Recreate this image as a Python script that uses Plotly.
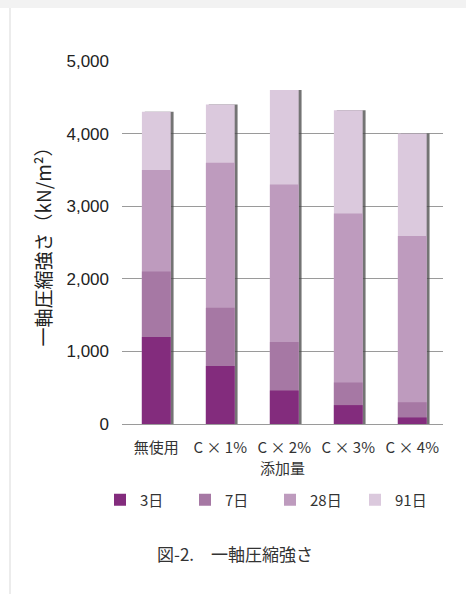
import plotly.graph_objects as go

categories = ["無使用", "C × 1%", "C × 2%", "C × 3%", "C × 4%"]
series_names = ["3日", "7日", "28日", "91日"]
day3 = [1200, 800, 460, 260, 90]
day7 = [2100, 1600, 1130, 570, 300]
day28 = [3500, 3600, 3300, 2900, 2590]
day91 = [4300, 4400, 4600, 4320, 4000]
y_ticks = [0, 1000, 2000, 3000, 4000, 5000]

colors = ["#832c7d", "#a678a4", "#be9bbe", "#dbc9dd"]
values = [day3, day7, day28, day91]

W, H = 466, 594
L, R, T, B = 122, 23, 61, 170
pw, ph = W - L - R, H - T - B

def px_x(px):
    return (px - L) / pw

def px_y(py):
    return (H - B - py) / ph

fig = go.Figure()
bw = 0.45
# drop shadow behind the bars
fig.add_trace(go.Bar(
    x=list(range(len(categories))), y=day91, width=bw, offset=-bw / 2 + 0.045,
    marker=dict(color="rgba(70,70,70,0.75)", line=dict(width=0)),
    showlegend=False, hoverinfo="skip"))
for i in [3, 2, 1, 0]:
    fig.add_trace(go.Bar(
        x=list(range(len(categories))), y=values[i], name=series_names[i],
        width=bw, offset=-bw / 2,
        marker=dict(color=colors[i], line=dict(width=0)),
        legendrank=i + 1))

fig.update_layout(
    width=W, height=H, barmode="overlay",
    margin=dict(l=L, r=R, t=T, b=B),
    paper_bgcolor="white", plot_bgcolor="white",
    font=dict(family="Noto Sans CJK JP", size=15, color="#333333"),
    showlegend=True,
    legend=dict(orientation="h", x=px_x(100), xanchor="left", y=px_y(500), yanchor="middle",
                font=dict(family="Noto Sans CJK JP", size=15, color="#333333"),
                entrywidth=40, traceorder="normal", bgcolor="rgba(0,0,0,0)"),
    xaxis=dict(tickmode="array", tickvals=list(range(len(categories))), ticktext=categories,
               range=[-0.536, 4.48], showgrid=False, zeroline=False, showline=False,
               ticks="", ticklabelstandoff=13,
               tickfont=dict(family="Noto Sans CJK JP", size=15, color="#333333"),
               title=dict(text="添加量", font=dict(family="Noto Sans CJK JP", size=15, color="#333333"),
                          standoff=1)),
    yaxis=dict(range=[0, 5000], tickvals=y_ticks, tickformat=",", showgrid=True,
               gridcolor="#9a9a9a", gridwidth=1, zeroline=True, zerolinecolor="#9a9a9a",
               zerolinewidth=1, showline=False, ticks="", ticklabelstandoff=12,
               tickfont=dict(family="Liberation Sans", size=17, color="#222222")),
)

fig.add_annotation(text="一軸圧縮強さ（kN/m²）", textangle=-90, xref="paper", yref="paper",
                   x=px_x(42), y=0.5, xanchor="center", yanchor="middle", showarrow=False,
                   font=dict(family="Noto Sans CJK JP", size=19, color="#222222"))
fig.add_annotation(text="図-2.　一軸圧縮強さ", xref="paper", yref="paper",
                   x=px_x(235), y=px_y(553), xanchor="center", yanchor="middle", showarrow=False,
                   font=dict(family="Noto Sans CJK JP", size=17, color="#333333"))

# card frame edges
fig.add_shape(type="rect", xref="paper", yref="paper", x0=px_x(0), x1=px_x(W), y0=px_y(0), y1=px_y(8),
              fillcolor="#f2f2f2", line=dict(width=0), layer="below")
fig.add_shape(type="line", xref="paper", yref="paper", x0=px_x(10), x1=px_x(10), y0=px_y(8), y1=px_y(H),
              line=dict(color="#e6e6e6", width=1.5))

fig.write_html("out.html")
